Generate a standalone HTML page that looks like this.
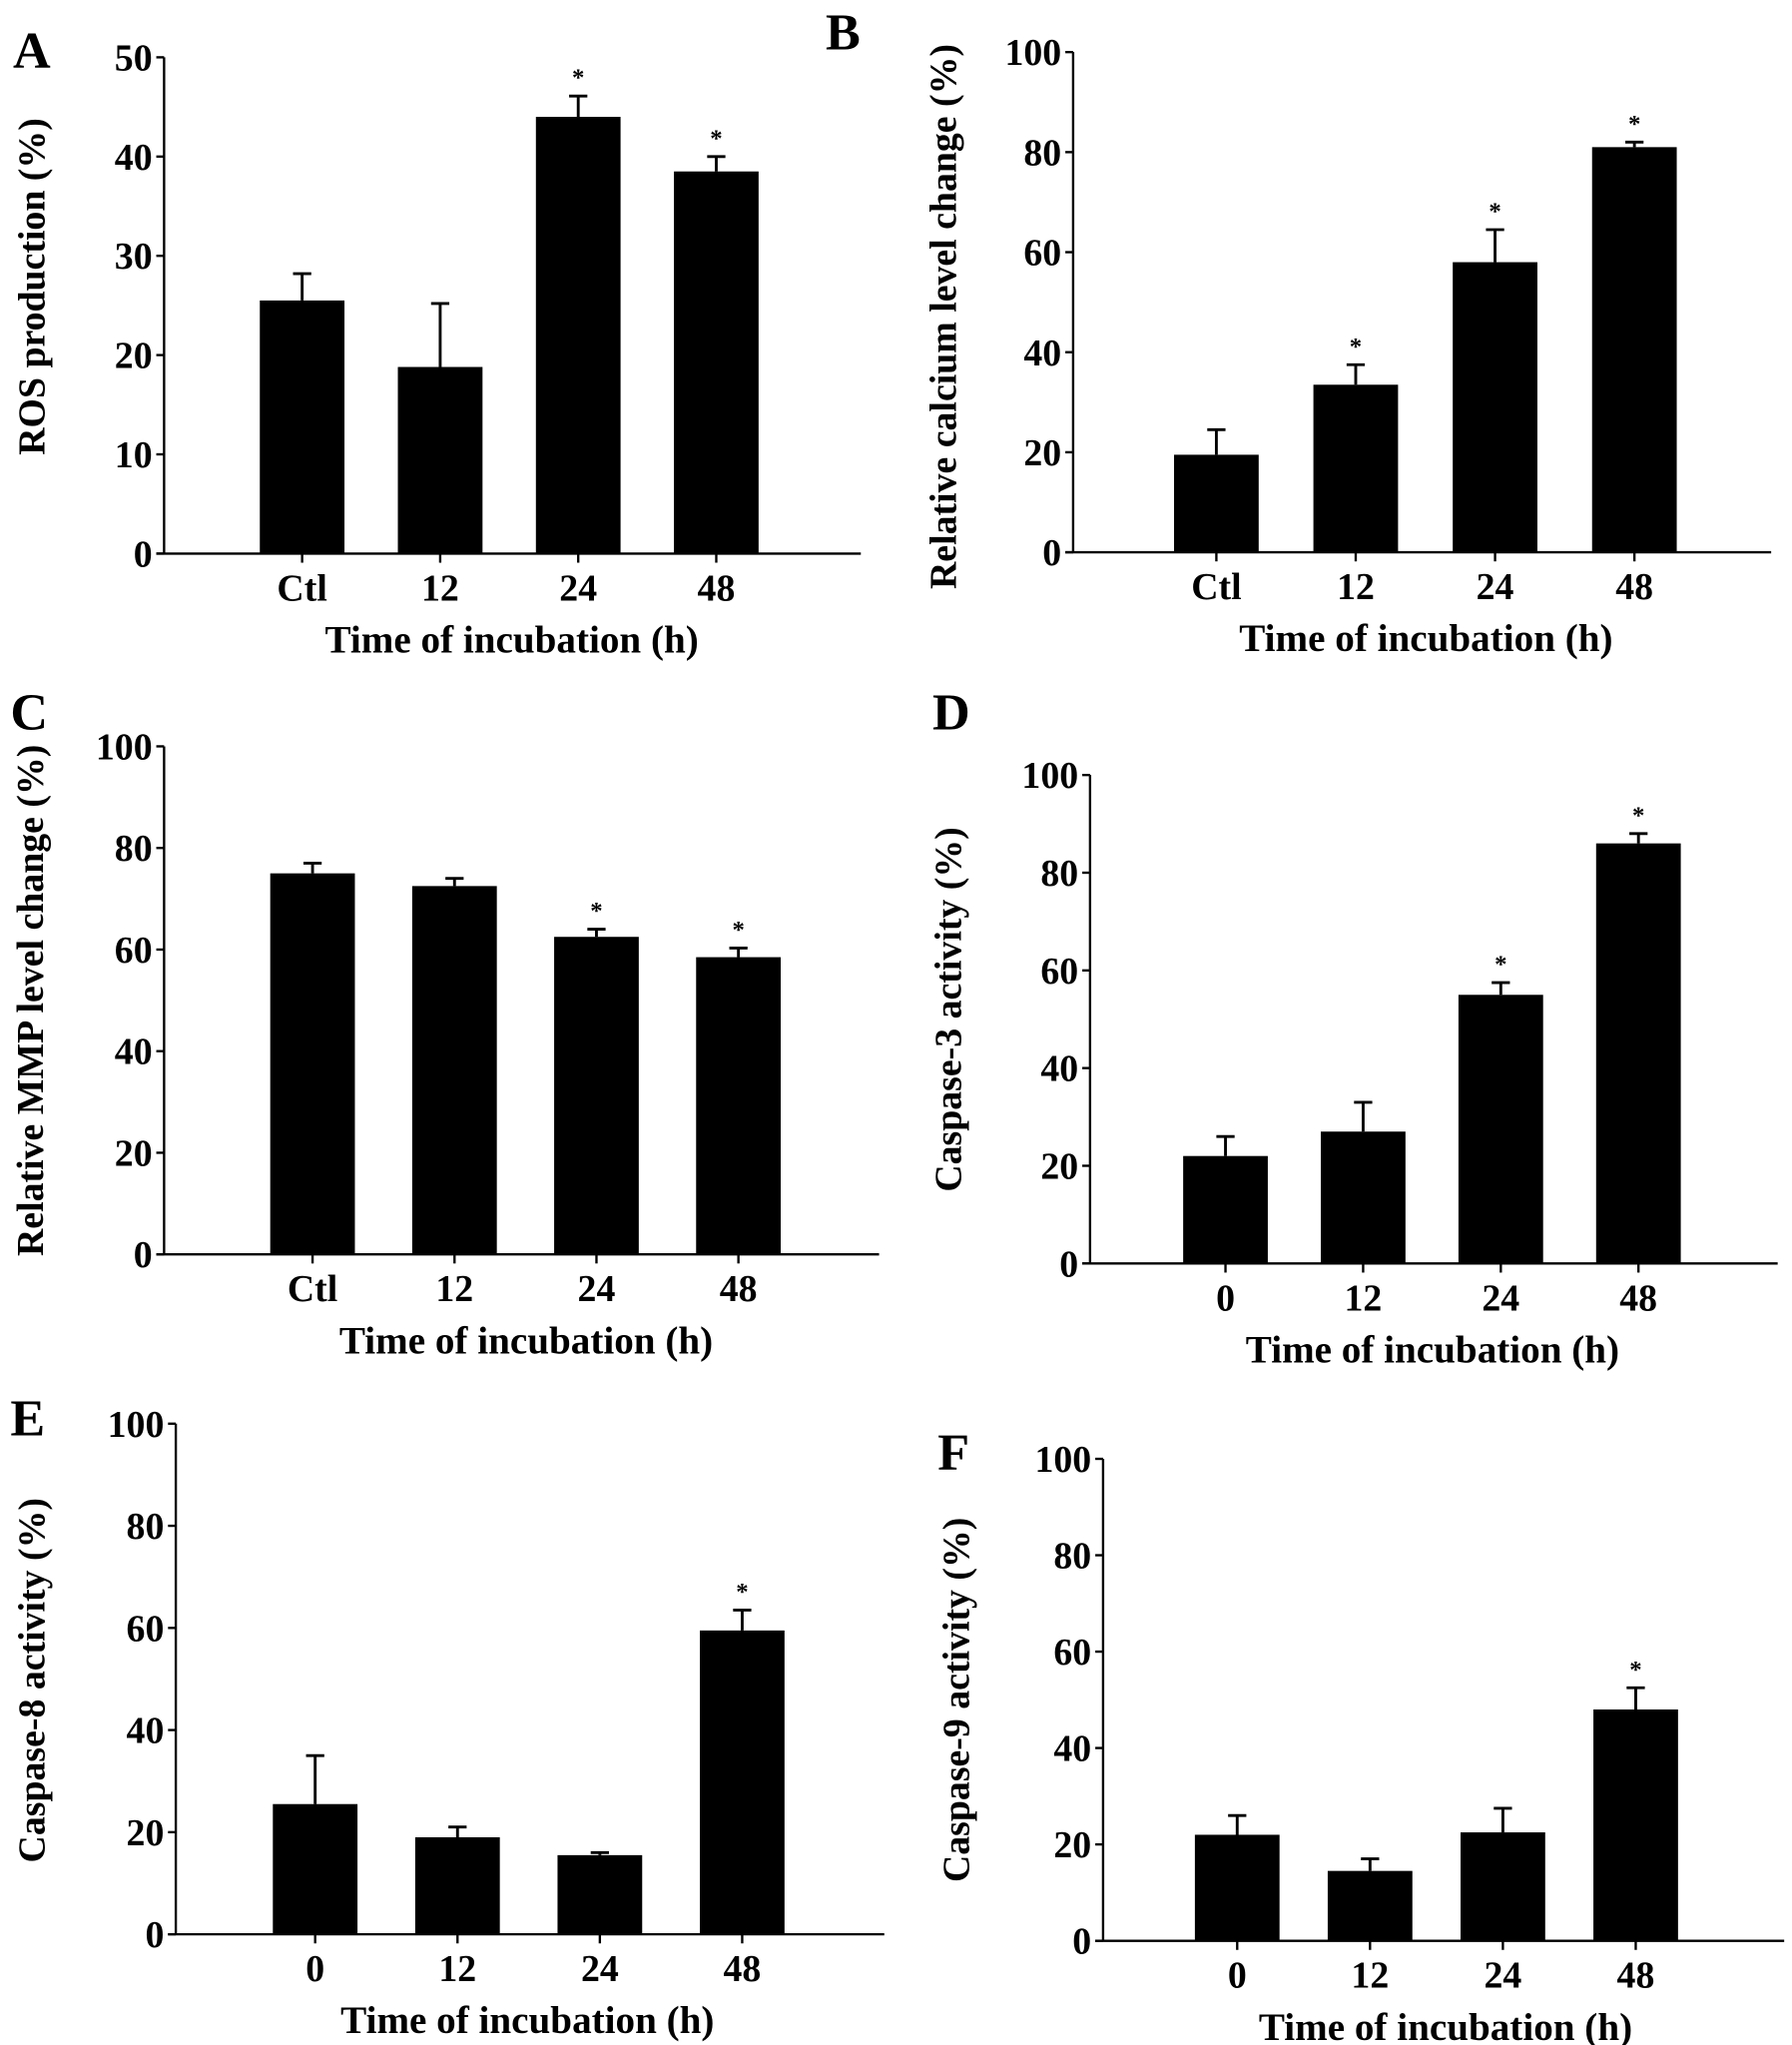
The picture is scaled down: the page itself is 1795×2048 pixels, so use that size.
<!DOCTYPE html>
<html><head><meta charset="utf-8"><style>
html,body{margin:0;padding:0;background:#fff;}
svg{display:block;}
text{font-family:"Liberation Serif",serif;font-weight:bold;fill:#000;}
</style></head><body>
<svg id="fig" width="1795" height="2048" viewBox="0 0 1376 1570" preserveAspectRatio="none" xmlns="http://www.w3.org/2000/svg"></svg>
<script>
// ---- data ----
const catsCtl = ["Ctl", "12", "24", "48"];
const cats0 = ["0", "12", "24", "48"];
const valsA = [25.5, 18.8, 44, 38.5];
const errA = [2.7, 6.4, 2.1, 1.5];
const sigA = [false, false, true, true];
const ticksA = [0, 10, 20, 30, 40, 50];
const valsB = [19.5, 33.5, 58, 81];
const errB = [5, 4, 6.5, 1];
const sigB = [false, true, true, true];
const valsC = [75, 72.5, 62.5, 58.5];
const errC = [2, 1.5, 1.5, 1.8];
const sigC = [false, false, true, true];
const valsD = [22, 27, 55, 86];
const errD = [4, 6, 2.5, 2];
const sigD = [false, false, true, true];
const valsE = [25.5, 19, 15.5, 59.5];
const errE = [9.5, 2, 0.5, 4];
const sigE = [false, false, false, true];
const valsF = [22, 14.5, 22.5, 48];
const errF = [4, 2.5, 5, 4.5];
const sigF = [false, false, false, true];
const ticks100 = [0, 20, 40, 60, 80, 100];

// ---- layout ----
const panels = [
 {id:"a",letter:"A",lx:10,ly:52,ax:126,x1:661,y0:425,yTop:44,ymax:50,ticks:ticksA,cats:catsCtl,vals:valsA,err:errA,sig:sigA,first:232,step:106,title:"ROS production (%)",tx:34,ty:220,xc:393},
 {id:"b",letter:"B",lx:634,ly:38,ax:824,x1:1360,y0:424,yTop:40,ymax:100,ticks:ticks100,cats:catsCtl,vals:valsB,err:errB,sig:sigB,first:934,step:107,title:"Relative calcium level change (%)",tx:734,ty:243,xc:1095},
 {id:"c",letter:"C",lx:8,ly:560,ax:126,x1:675,y0:963,yTop:573,ymax:100,ticks:ticks100,cats:catsCtl,vals:valsC,err:errC,sig:sigC,first:240,step:109,title:"Relative MMP level change (%)",tx:33,ty:768,xc:404},
 {id:"d",letter:"D",lx:716,ly:560,ax:837,x1:1365,y0:970,yTop:595,ymax:100,ticks:ticks100,cats:cats0,vals:valsD,err:errD,sig:sigD,first:941,step:105.7,title:"Caspase-3 activity (%)",tx:738,ty:775,xc:1100},
 {id:"e",letter:"E",lx:8,ly:1102,ax:135,x1:679,y0:1485,yTop:1093,ymax:100,ticks:ticks100,cats:cats0,vals:valsE,err:errE,sig:sigE,first:242,step:109.3,title:"Caspase-8 activity (%)",tx:34,ty:1290,xc:405},
 {id:"f",letter:"F",lx:720,ly:1128,ax:847,x1:1370,y0:1490,yTop:1120,ymax:100,ticks:ticks100,cats:cats0,vals:valsF,err:errF,sig:sigF,first:950,step:102,title:"Caspase-9 activity (%)",tx:744,ty:1305,xc:1110}
];
const NS = "http://www.w3.org/2000/svg";
const svg = document.getElementById("fig");
function mk(tag, attrs, parent){
  const e = document.createElementNS(NS, tag);
  for (const k in attrs) e.setAttribute(k, attrs[k]);
  (parent||svg).appendChild(e);
  return e;
}
panels.forEach(p => {
  const g = mk("g", {});
  
  
  const yS = v => p.y0 - v / p.ymax * (p.y0 - p.yTop);
  const xS = i => p.first + i * p.step;
  const bw = 65;
  const L = mk("text", {x:p.lx, y:p.ly, "font-size":40}, g); L.textContent = p.letter;
  
  
  const ya = mk("line", {x1:p.ax, y1:p.yTop, x2:p.ax, y2:p.y0, stroke:"#000","stroke-width":1.8}, g);
  
  
  const xa = mk("line", {x1:p.ax - 6, y1:p.y0, x2:p.x1, y2:p.y0, stroke:"#000","stroke-width":1.8}, g);
  
  
  p.ticks.forEach(t => {
    const y = yS(t);
    mk("line", {x1:p.ax - 6, y1:y, x2:p.ax, y2:y, stroke:"#000","stroke-width":1.8}, g);
    const tl = mk("text", {x:p.ax - 9, y:y + 10, "font-size":29, "text-anchor":"end"}, g);
    tl.textContent = t;
    
    
  });
  p.vals.forEach((v, i) => {
    const cx = xS(i);
    mk("line", {x1:cx, y1:p.y0, x2:cx, y2:p.y0 + 7, stroke:"#000","stroke-width":1.8}, g);
    const bar = mk("rect", {x:cx - bw/2, y:yS(v), width:bw, height:p.y0 - yS(v), fill:"#000"}, g);
    
    
    const ye = yS(v + p.err[i]);
    const eb = mk("path", {d:"M"+cx+" "+yS(v)+"V"+ye+"M"+(cx-7)+" "+ye+"H"+(cx+7), stroke:"#000","stroke-width":2.2, fill:"none"}, g);
    
    
    if (p.sig[i]) {
      const s = mk("text", {x:cx, y:ye - 8, "font-size":19, "text-anchor":"middle"}, g);
      s.textContent = "*";
      
      
    }
    const xl = mk("text", {x:cx, y:p.y0 + 36, "font-size":29, "text-anchor":"middle"}, g);
    xl.textContent = p.cats[i];
    
    
  });
  const xt = mk("text", {x:p.xc, y:p.y0 + 76, "font-size":30, "text-anchor":"middle"}, g);
  xt.textContent = "Time of incubation (h)";
  
  
  const yt = mk("text", {x:0, y:0, "font-size":29, "text-anchor":"middle", transform:"translate("+p.tx+","+p.ty+") rotate(-90)"}, g);
  yt.textContent = p.title;
  
  
});
</script>
</body></html>
